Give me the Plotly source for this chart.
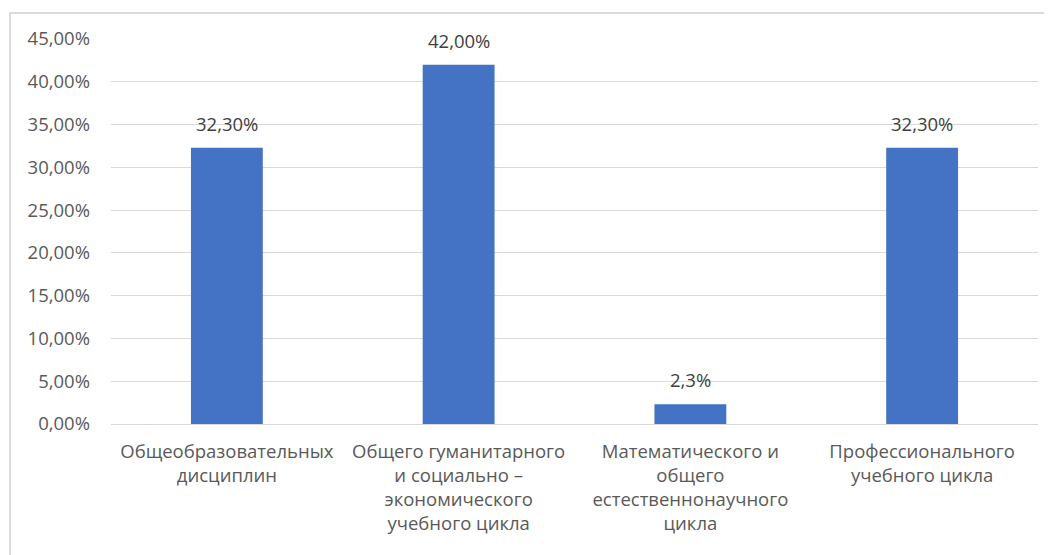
import plotly.graph_objects as go

categories = [
    "Общеобразовательных<br>дисциплин",
    "Общего гуманитарного<br>и социально –<br>экономического<br>учебного цикла",
    "Математического и<br>общего<br>естественнонаучного<br>цикла",
    "Профессионального<br>учебного цикла",
]
values = [32.3, 42.0, 2.3, 32.3]
value_labels = ["32,30%", "42,00%", "2,3%", "32,30%"]
tick_vals = [0, 5, 10, 15, 20, 25, 30, 35, 40, 45]
tick_text = ["0,00%", "5,00%", "10,00%", "15,00%", "20,00%", "25,00%",
             "30,00%", "35,00%", "40,00%", "45,00%"]

OFF = 8  # default page body margin
W, H = 1052 - OFF, 555 - OFF
ml, mr, mt, mb = 111 - OFF, 14, 39 - OFF, 131
font_family = "Open Sans, Noto Sans, sans-serif"
text_color = "#595959"
fs = 18.5

fig = go.Figure()
fig.add_trace(go.Bar(
    x=categories, y=values,
    marker=dict(color="#4472C4", line=dict(width=0)),
    hoverinfo="skip",
))
for c, v, t in zip(categories, values, value_labels):
    fig.add_annotation(x=c, y=v, text=t, showarrow=False, yanchor="bottom",
                       yshift=10, font=dict(size=fs, color="#404040", family=font_family))

pw = W - ml - mr
ph = H - mt - mb
fig.add_shape(type="rect", xref="paper", yref="paper",
              x0=(10 - OFF - ml) / pw, x1=(W + 10 - ml) / pw,
              y0=-(mb + 10) / ph, y1=(mt - (13 - OFF)) / ph + 1,
              line=dict(color="#d0d0d0", width=1.5), fillcolor="rgba(0,0,0,0)", layer="below")

fig.update_layout(
    width=W, height=H,
    margin=dict(l=ml, r=mr, t=mt, b=mb),
    paper_bgcolor="white", plot_bgcolor="white",
    bargap=0.69, showlegend=False,
    font=dict(family=font_family, size=fs, color=text_color),
)
fig.update_xaxes(showline=False, ticks="", tickfont=dict(size=fs, color=text_color),
                 tickangle=0, showgrid=False, ticklabelstandoff=14)
fig.update_yaxes(range=[0, 45], tickvals=tick_vals, ticktext=tick_text,
                 showgrid=True, gridcolor="#d9d9d9", gridwidth=1,
                 zeroline=True, zerolinecolor="#d9d9d9", zerolinewidth=1,
                 showline=False, ticks="", ticklabelstandoff=20,
                 tickfont=dict(size=fs, color=text_color))

fig.write_html("out.html")
